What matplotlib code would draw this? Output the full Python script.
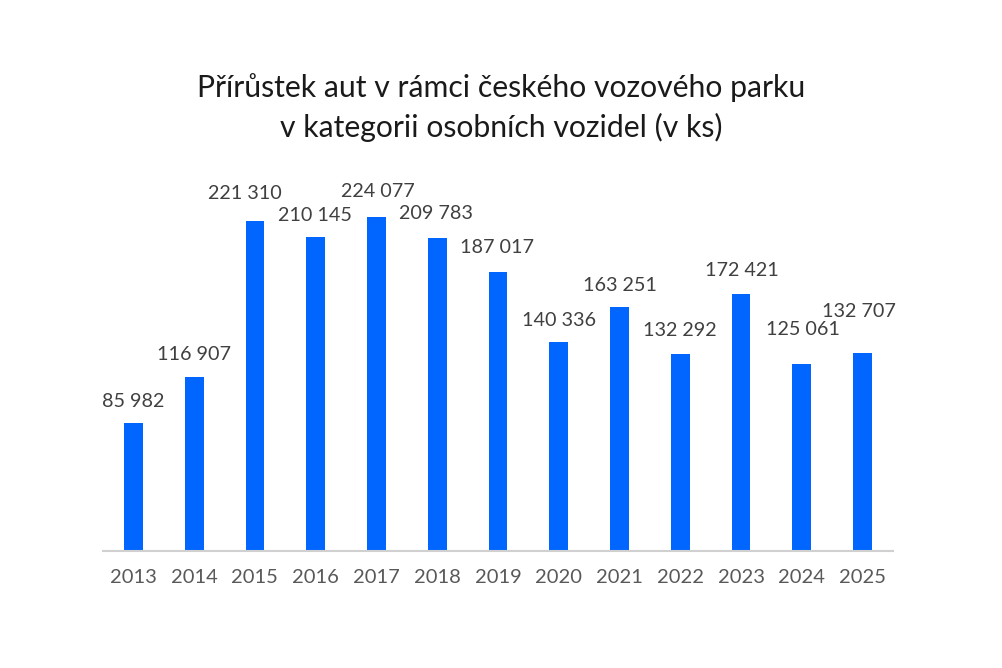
import matplotlib.pyplot as plt

years = ['2013', '2014', '2015', '2016', '2017', '2018', '2019',
         '2020', '2021', '2022', '2023', '2024', '2025']
values = [85982, 116907, 221310, 210145, 224077, 209783, 187017,
          140336, 163251, 132292, 172421, 125061, 132707]
labels = ['85 982', '116 907', '221 310', '210 145', '224 077', '209 783', '187 017',
          '140 336', '163 251', '132 292', '172 421', '125 061', '132 707']

# label shift from bar top in pixels (x, y), excel moved a few of them
lab_dx = [0, 0, -10, -1, 1, -1, -1, 0, 0, 0, 1, 1, -4]
lab_dy = [21, 22, 27, 22, 25, 24, 24, 21, 22, 23, 23, 35, 41]

plt.rcParams['font.family'] = ['Lato', 'DejaVu Sans']

fig = plt.figure(figsize=(10.02, 6.68), dpi=100)
ax = fig.add_axes([0.1028, 0.1751, 0.7884, 0.5698])

x = list(range(len(years)))
ax.bar(x, values, width=0.31, color='#0066ff', zorder=2)

for i in x:
    ax.annotate(labels[i], (i, values[i]), xytext=(lab_dx[i] * 0.72, lab_dy[i] * 0.72),
                textcoords='offset points', ha='center', va='center',
                fontsize=14.2, color='#404040')

ax.set_xlim(-0.5, 12.5)
ax.set_ylim(0, 255000)
ax.set_xticks(x)
ax.set_xticklabels(years, fontsize=14.5, color='#595959')
ax.tick_params(axis='x', length=0, pad=13)
ax.set_yticks([])
for s in ['top', 'right', 'left']:
    ax.spines[s].set_visible(False)
ax.spines['bottom'].set_color('#d0d0d0')
ax.spines['bottom'].set_linewidth(1.5)

fig.text(0.5, 1 - 88 / 668, 'Přírůstek aut v rámci českého vozového parku',
         ha='center', va='center', fontsize=21.7, color='#1a1a1a')
fig.text(0.5, 1 - 127 / 668, 'v kategorii osobních vozidel (v ks)',
         ha='center', va='center', fontsize=21.7, color='#1a1a1a')

fig.savefig('out.png', dpi=100)
